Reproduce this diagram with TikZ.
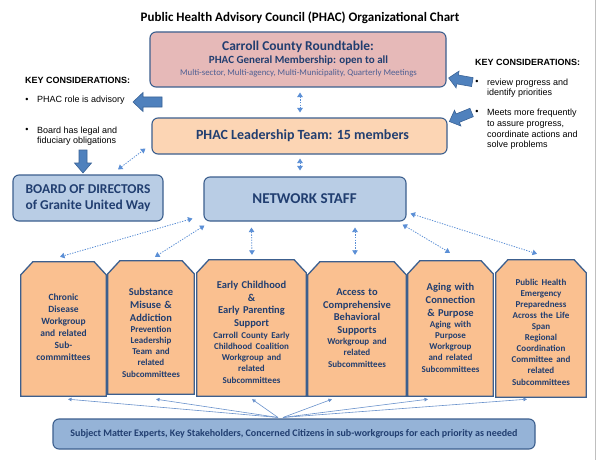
\documentclass[tikz,border=0pt]{standalone}
\usepackage{fontspec}
\setmainfont{Carlito}
\newfontfamily\arialf{Liberation Sans}
\usetikzlibrary{arrows.meta,calc}
\definecolor{navy}{HTML}{213E70}
\definecolor{subnavy}{HTML}{4E5F93}
\definecolor{bord}{HTML}{3C5F8E}
\definecolor{pinkf}{HTML}{E6B9B8}
\definecolor{peachf}{HTML}{FCD5B4}
\definecolor{bluef}{HTML}{B9CDE5}
\definecolor{orangef}{HTML}{FAC090}
\definecolor{botf}{HTML}{95B3D7}
\definecolor{arrf}{HTML}{4F81BD}
\definecolor{arrb}{HTML}{3A6397}
\definecolor{dotb}{HTML}{5B8FD6}
\definecolor{fanb}{HTML}{6A92CC}
\newcommand\fbig{\fontsize{10.5}{12.7}\selectfont}
\newcommand\fsmall{\fontsize{9}{11}\selectfont}
\newcommand\fmid{\fontsize{9.5}{12}\selectfont}
\newcommand\prioshape[1]{%
  \draw[prio] (#1.south west) -- ($(#1.north west)+(0,13)$) -- ($(#1.north west)+(12,0)$)
    -- ($(#1.north east)+(-12,0)$) -- ($(#1.north east)+(0,13)$) -- (#1.south east) -- cycle;}
\newcommand\blkarrow[6]{% center, rotate, halflen, bodyhalf, headhalf, headlen
  \draw[blockarr, shift={(#1)}, rotate=#2] (-#3,0) -- (-#3+#6,-#5) -- (-#3+#6,-#4) -- (#3,-#4)
    -- (#3,#4) -- (-#3+#6,#4) -- (-#3+#6,#5) -- cycle;}
\begin{document}
\begin{tikzpicture}[x=1pt,y=-1pt,
  base/.style={draw=bord, line width=1.1pt, rounded corners=6pt, inner sep=0pt},
  frame/.style={inner sep=0pt, draw=none},
  prio/.style={draw=bord, fill=orangef, line width=1.3pt},
  txtbox/.style={text=navy, font=\bfseries, align=center, inner sep=0pt, text width=#1},
  dotc/.style={draw=dotb, line width=0.8pt, dash pattern=on 1.3pt off 1.3pt,
    {Triangle[width=5.5pt,length=4.5pt]}-{Triangle[width=5.5pt,length=4.5pt]}},
  fan/.style={draw=fanb, line width=0.6pt, -{Triangle[width=3.5pt,length=3.5pt]}},
  blockarr/.style={draw=arrb, fill=arrf, line width=0.6pt, line join=miter},
  keyt/.style={font=\arialf\bfseries\fontsize{9}{11}\selectfont, inner sep=0pt, anchor=west},
  bodyt/.style={font=\arialf\fontsize{9}{10.6}\selectfont, inner sep=0pt, align=left, anchor=north west},
  bul/.style={font=\arialf\fontsize{9}{10.6}\selectfont, inner sep=0pt}
]
\useasboundingbox (0,0) rectangle (600,460);
\fill[white] (0,0) rectangle (600,460);
\draw[black!25, line width=0.6pt] (595,0) -- (595,460);

% title
\node[font=\fontsize{13}{15}\selectfont\bfseries, inner sep=0pt] (title) at (300,18)
  {Public Health Advisory Council (PHAC) Organizational Chart};

% top boxes
\node[base, fill=pinkf, minimum width=296, minimum height=55] (rt) at (298,59.5) {};
\node[text=navy, font=\fontsize{13.5}{15}\selectfont\bfseries, inner sep=0pt] (rt1) at (298,47) {Carroll County Roundtable:};
\node[text=navy, font=\fontsize{11}{13}\selectfont\bfseries, inner sep=0pt] (rt2) at (298.5,61) {PHAC General Membership: open to all};
\node[text=subnavy, font=\fontsize{8.8}{10}\selectfont, inner sep=0pt] (rt3) at (298.5,73.5) {Multi-sector, Multi-agency, Multi-Municipality, Quarterly Meetings};

\node[base, fill=peachf, minimum width=295, minimum height=36] (lead) at (299.5,136) {};
\node[text=navy, font=\fontsize{14}{16}\selectfont\bfseries, inner sep=0pt] (leadt) at (302.5,136) {PHAC Leadership Team: 15 members};

\node[base, fill=bluef, minimum width=150, minimum height=46] (board) at (88,198) {};
\node[text=navy, font=\fontsize{13.5}{16}\selectfont\bfseries, inner sep=0pt, align=center] (boardt) at (88,198.5) {BOARD OF DIRECTORS\\of Granite United Way};

\node[base, fill=bluef, minimum width=202, minimum height=44] (net) at (305,199) {};
\node[text=navy, font=\fontsize{15}{17}\selectfont\bfseries, inner sep=0pt] (nett) at (304.5,198.5) {NETWORK STAFF};

% key considerations left
\node[keyt] (kl) at (25,80) {KEY CONSIDERATIONS:};
\node[bul] (bl1) at (27,100) {•};
\node[bodyt, anchor=west] (tl1) at (37,100) {PHAC role is advisory};
\node[bul] (bl2) at (27,130) {•};
\node[bodyt] (tl2) at (37,126.5) {Board has legal and\\fiduciary obligations};

% key considerations right
\node[keyt] (kr) at (475,62) {KEY CONSIDERATIONS:};
\node[bul] (br1) at (477,82) {•};
\node[bodyt] (tr1) at (487,78.5) {review progress and\\identify priorities};
\node[bul] (br2) at (477,112.5) {•};
\node[bodyt] (tr2) at (487,109.2) {Meets more frequently\\to assure progress,\\coordinate actions and\\solve problems};

% block arrows
\blkarrow{147.5,102}{0}{14.5}{5}{9.5}{10}
\blkarrow{83,161.5}{90}{11.5}{4}{8.5}{10}
\blkarrow{460.5,80}{-10}{12}{4.5}{8.5}{9}
\blkarrow{460.5,117}{22}{12}{4.5}{8.5}{9}

% priority boxes
\node[frame, minimum width=85, minimum height=134] (b1) at (63.5,329) {};
\node[frame, minimum width=86, minimum height=133] (b2) at (151,327.5) {};
\node[frame, minimum width=109, minimum height=136] (b3) at (251.5,328) {};
\node[frame, minimum width=98, minimum height=134] (b4) at (357,329) {};
\node[frame, minimum width=85, minimum height=135] (b5) at (450.5,328.5) {};
\node[frame, minimum width=90, minimum height=137] (b6) at (541,328.5) {};
\prioshape{b1}\prioshape{b2}\prioshape{b3}\prioshape{b4}\prioshape{b5}\prioshape{b6}

\node[txtbox=80pt] (t1) at (63.5,327) {\fmid Chronic\\Disease\\Workgroup\\and related\\Sub-\\commmittees};
\node[txtbox=80pt] (t2) at (151,333) {{\fbig Substance\\Misuse \&\\Addiction\par}\fsmall Prevention\\Leadership\\Team and\\related\\Subcommittees};
\node[txtbox=104pt] (t3) at (251.5,332.5) {{\fbig Early Childhood\\\&\\Early Parenting\\Support\par}\vspace{1.5pt}\fsmall Carroll County Early\\Childhood Coalition\\Workgroup and\\related\\Subcommittees};
\node[txtbox=92pt] (t4) at (357,328) {{\fbig Access to\\Comprehensive\\Behavioral\\Supports\par}\fsmall Workgroup and\\related\\Subcommittees};
\node[txtbox=80pt] (t5) at (450.5,328) {{\fbig Aging with\\Connection\\\& Purpose\par}\fsmall Aging with\\Purpose\\Workgroup\\and related\\Subcommittees};
\node[txtbox=84pt] (t6) at (541,332) {\fsmall Public Health\\Emergency\\Preparedness\\Across the Life\\Span\\Regional\\Coordination\\Committee and\\related\\Subcommittees};

% bottom box
\node[base, fill=botf, minimum width=482, minimum height=30] (bot) at (294,434) {};
\node[text=navy, font=\fontsize{10}{12}\selectfont\bfseries, inner sep=0pt] (bott) at (294,433.5) {Subject Matter Experts, Key Stakeholders, Concerned Citizens in sub-workgroups for each priority as needed};

% dotted connectors
\draw[dotc] ($(rt.south)+(2,5)$) -- ($(lead.north)+(0.5,-5)$);
\draw[dotc] ($(lead.south)+(0.5,4)$) -- ($(net.north)+(-5,-6)$);
\draw[dotc] ($(board.north)+(30,-5)$) -- ($(lead.south west)+(-6,-6)$);
\draw[dotc] ($(net.south west)+(-11,-3)$) -- ($(b1.north)+(-3.5,-5)$);
\draw[dotc] ($(net.south west)+(1,4)$) -- ($(b2.north)+(4,-4)$);
\draw[dotc] ($(net.south west)+(48,6)$) -- ($(b3.north)+(0.5,-5)$);
\draw[dotc] ($(net.south)+(50,6)$) -- ($(b4.north)+(-2,-7)$);
\draw[dotc] ($(net.south east)+(-4,3)$) -- ($(b5.north)+(-0.5,-8)$);
\draw[dotc] ($(net.south east)+(4,-8)$) -- ($(b6.north)+(-4,-6)$);

% fan arrows from bottom box
\coordinate (fl) at ($(bot.north)+(-16,-1)$);
\coordinate (fr) at ($(bot.north)+(-11,-1)$);
\draw[fan] (fl) -- ($(b1.south)+(4.5,3)$);
\draw[fan] (fl) -- ($(b2.south)+(5,5)$);
\draw[fan] (fl) -- ($(b3.south)+(0.5,3)$);
\draw[fan] (fr) -- ($(b4.south)+(-25,3)$);
\draw[fan] (fr) -- ($(b5.south)+(-22.5,3)$);
\draw[fan] (fr) -- ($(b6.south)+(-14,2)$);
\end{tikzpicture}
\end{document}
